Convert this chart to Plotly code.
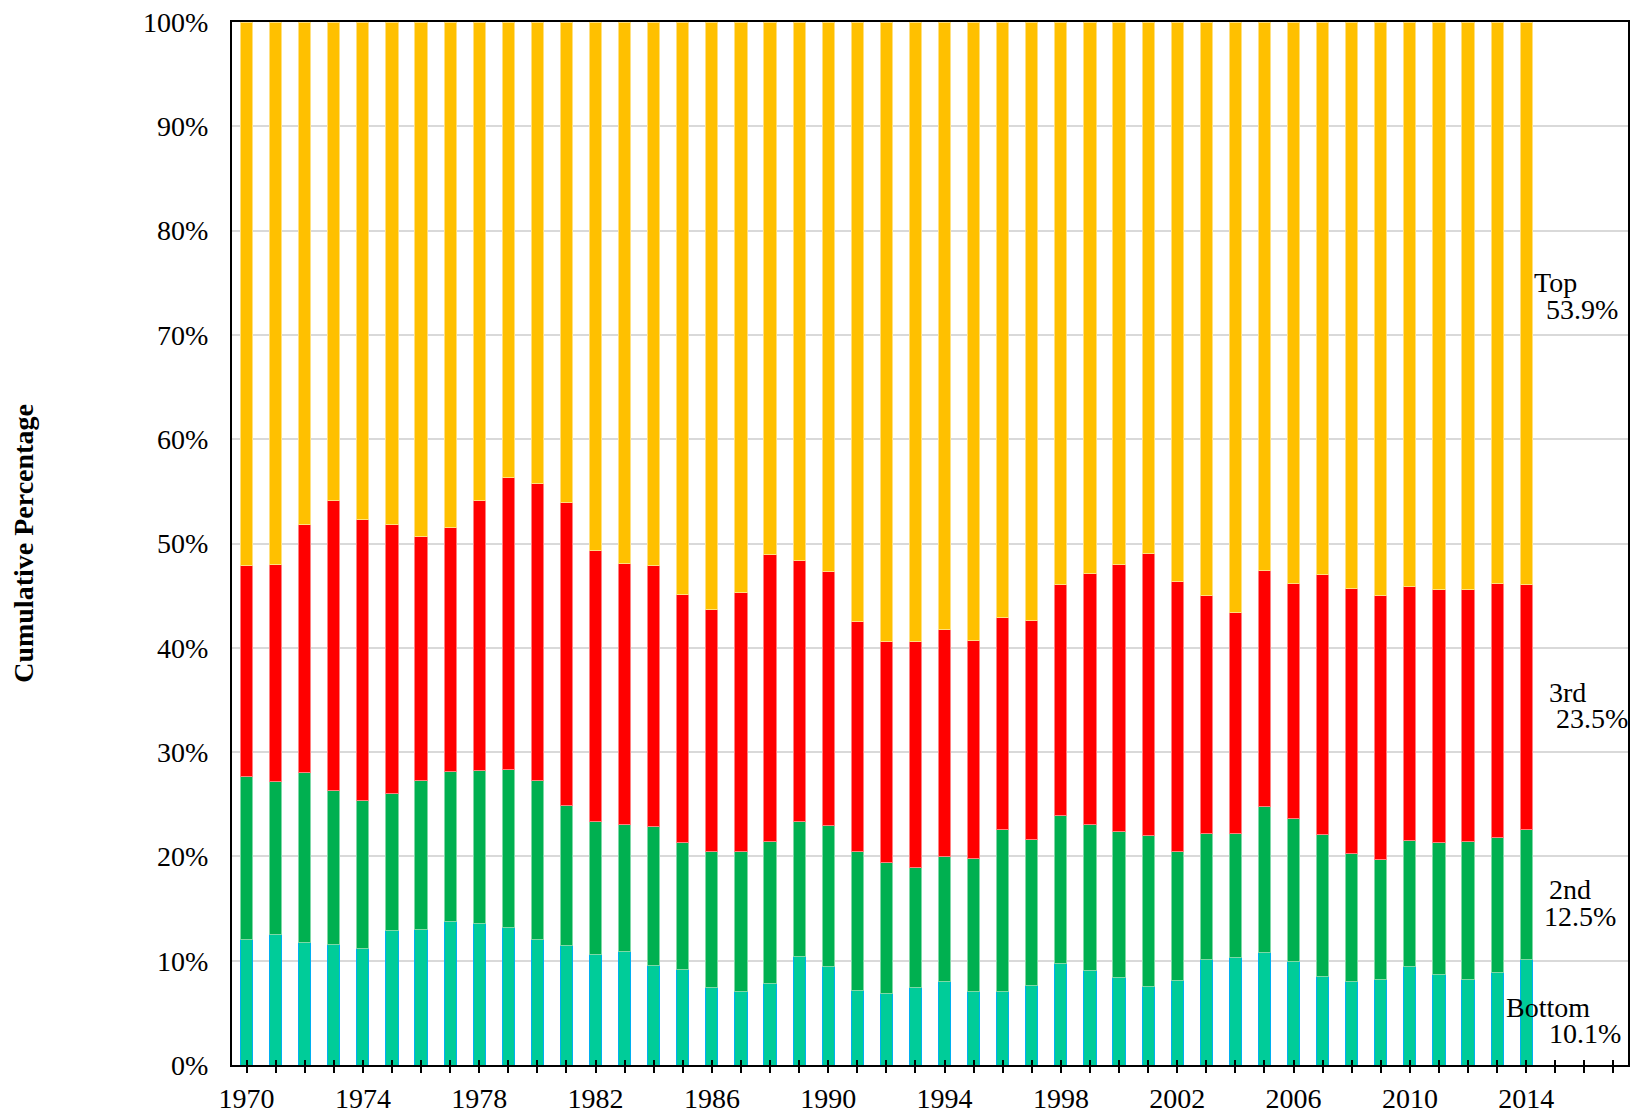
import plotly.graph_objs as go

years = list(range(1970, 2015))

bottom = [12.0, 12.5, 11.7, 11.6, 11.2, 12.9, 13.0, 13.8, 13.6, 13.2,
          12.0, 11.5, 10.6, 10.9, 9.5, 9.2, 7.4, 7.0, 7.8, 10.4,
          9.4, 7.1, 6.9, 7.4, 8.0, 7.0, 7.0, 7.6, 9.7, 9.1,
          8.4, 7.5, 8.1, 10.1, 10.3, 10.8, 9.9, 8.5, 8.0, 8.2,
          9.4, 8.7, 8.2, 8.9, 10.1]
second = [15.7, 14.7, 16.3, 14.7, 14.2, 13.1, 14.3, 14.3, 14.6, 15.1,
          15.3, 13.4, 12.7, 12.2, 13.4, 12.1, 13.1, 13.5, 13.6, 12.9,
          13.6, 13.4, 12.5, 11.5, 12.0, 12.8, 15.6, 14.0, 14.2, 14.0,
          14.0, 14.5, 12.4, 12.1, 11.9, 14.0, 13.7, 13.6, 12.3, 11.5,
          12.1, 12.6, 13.2, 12.9, 12.5]
third = [20.2, 20.8, 23.8, 27.8, 26.9, 25.8, 23.4, 23.4, 25.9, 28.0,
         28.5, 29.0, 26.0, 25.0, 25.0, 23.8, 23.2, 24.8, 27.5, 25.1,
         24.3, 22.0, 21.2, 21.7, 21.8, 20.9, 20.3, 21.0, 22.2, 24.0,
         25.6, 27.0, 25.9, 22.8, 21.2, 22.6, 22.6, 24.9, 25.4, 25.3,
         24.4, 24.3, 24.2, 24.4, 23.5]
top = [52.1, 52.0, 48.2, 45.9, 47.7, 48.2, 49.3, 48.5, 45.9, 43.7,
       44.2, 46.1, 50.7, 51.9, 52.1, 54.9, 56.3, 54.7, 51.1, 51.6,
       52.7, 57.5, 59.4, 59.4, 58.2, 59.3, 57.1, 57.4, 53.9, 52.9,
       52.0, 51.0, 53.6, 55.0, 56.6, 52.6, 53.8, 53.0, 54.3, 55.0,
       54.1, 54.4, 54.4, 53.8, 53.9]

label_names = ['Bottom', '2nd', '3rd', 'Top']
label_values = [10.1, 12.5, 23.5, 53.9]

tick_years = list(range(1970, 2018))
tick_text = [str(y) if (y - 1970) % 4 == 0 else '' for y in tick_years]

font = 'Liberation Serif'
fsize = 28

series = [
    ('Bottom', bottom, '#00CC99', '#00B0F0'),
    ('2nd', second, '#00B050', '#7FD8A7'),
    ('3rd', third, '#FF0000', '#FF8080'),
    ('Top', top, '#FFC000', '#FFE080'),
]

data = []
for name, vals, fill, edge in series:
    data.append(go.Bar(x=years, y=vals, name=name, width=0.42,
                       marker=dict(color=fill, line=dict(color=edge, width=1))))

# inside half of the year ticks
data.append(go.Scatter(x=[1970], y=[None], xaxis='x2', showlegend=False))

# label positions (year, percent) for the two lines of each label
label_pos = [((2013.23, 5.5), (2014.71, 3.0)),
             ((2014.70, 16.8), (2014.54, 14.2)),
             ((2014.71, 35.7), (2014.95, 33.2)),
             ((2014.20, 75.0), (2014.60, 72.4))]

annotations = []
for name, val, (p1, p2) in zip(label_names, label_values, label_pos):
    annotations.append(dict(x=p1[0], y=p1[1], text=name, showarrow=False,
                            xanchor='left', yanchor='middle',
                            font=dict(family=font, size=fsize, color='black')))
    annotations.append(dict(x=p2[0], y=p2[1], text='%.1f%%' % val, showarrow=False,
                            xanchor='left', yanchor='middle',
                            font=dict(family=font, size=fsize, color='black')))

layout = go.Layout(
    width=1646, height=1113,
    barmode='stack', showlegend=False,
    plot_bgcolor='white', paper_bgcolor='white',
    margin=dict(l=224, r=26, t=14, b=56, autoexpand=False),
    font=dict(family=font, size=fsize, color='black'),
    xaxis=dict(range=[1969.5, 2017.5], tickvals=tick_years, ticktext=tick_text,
               ticks='outside', ticklen=6, tickwidth=2, tickcolor='black',
               showgrid=False, showline=True, linecolor='black', linewidth=2,
               mirror=True, ticklabelstandoff=1,
               tickfont=dict(family=font, size=fsize, color='black')),
    xaxis2=dict(range=[1969.5, 2017.5], overlaying='x', tickvals=tick_years,
                showticklabels=False, ticks='inside', ticklen=5, tickwidth=2,
                tickcolor='black', showgrid=False, showline=False, side='bottom'),
    yaxis=dict(range=[0, 100], dtick=10, ticksuffix='%', showgrid=True,
               gridcolor='#D9D9D9', gridwidth=2, showline=True, linecolor='black',
               linewidth=2, mirror=True, ticks='', ticklabelstandoff=16,
               ticklabeloverflow='allow', zeroline=False,
               tickfont=dict(family=font, size=fsize, color='black'),
               title=dict(text='<b>Cumulative Percentage</b>', standoff=114,
                          font=dict(family=font, size=28, color='black'))),
    annotations=annotations,
)

fig = go.Figure(data=data, layout=layout)
fig.write_html("out.html")
